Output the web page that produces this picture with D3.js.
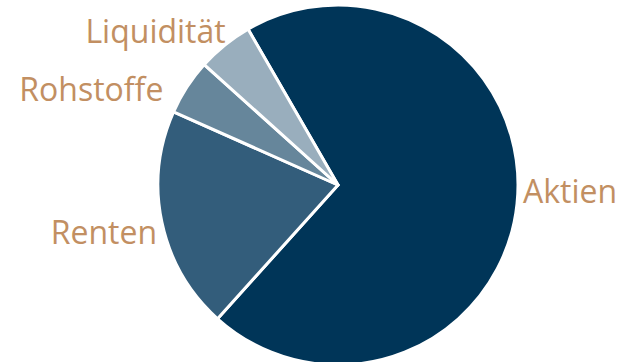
<!DOCTYPE html>
<html>
<head>
<meta charset="utf-8">
<script src="https://cdn.jsdelivr.net/npm/d3@7"></script>
<style>
  html, body { margin: 0; padding: 0; background: #fff; }
  svg { display: block; }
</style>
</head>
<body>
<div id="chart"></div>
<script>
(function() {

// data (percent of portfolio)
var categories = ["Aktien", "Renten", "Rohstoffe", "Liquidität"]
var shares = [70, 20, 5, 5]
var colors = ["#003558", "#335d7b", "#66869b", "#99aebd"]

var width = 620,
    height = 362

var cx = 338, cy = 185, radius = 180

var svg = d3.select("#chart").append("svg")
  .attr("width", width)
  .attr("height", height)

var g = svg.append("g")
  .attr("transform", "translate(" + cx + "," + cy + ")")

var startAngle = -30 * Math.PI / 180

var pie = d3.pie()
  .sort(null)
  .startAngle(startAngle)
  .endAngle(startAngle + 2 * Math.PI)
  .value(function(d, i) { return shares[i] })

var arc = d3.arc().innerRadius(0).outerRadius(radius)

var arcs = pie(categories)

g.selectAll("path")
  .data(arcs)
  .enter().append("path")
  .attr("d", arc)
  .attr("fill", function(d, i) { return colors[i] })
  .attr("stroke", "#fff")
  .attr("stroke-width", 3)
  .attr("stroke-linejoin", "round")

// labels sit just outside the rim, small nudges so they don't crowd
var labelArc = d3.arc().innerRadius(radius + 8).outerRadius(radius + 8)
var nudge = [[-2, -13], [3, 9], [-17, 7], [6, -7]]

g.selectAll("text")
  .data(arcs)
  .enter().append("text")
  .attr("x", function(d, i) { return labelArc.centroid(d)[0] + nudge[i][0] })
  .attr("y", function(d, i) { return labelArc.centroid(d)[1] + nudge[i][1] })
  .attr("dy", "0.35em")
  .attr("text-anchor", function(d) {
    var mid = (d.startAngle + d.endAngle) / 2
    return Math.sin(mid) >= 0 ? "start" : "end"
  })
  .attr("font-family", "'Open Sans', sans-serif")
  .attr("font-size", 32)
  .attr("fill", "#c28f62")
  .text(function(d) { return d.data })

})()
</script>
</body>
</html>
